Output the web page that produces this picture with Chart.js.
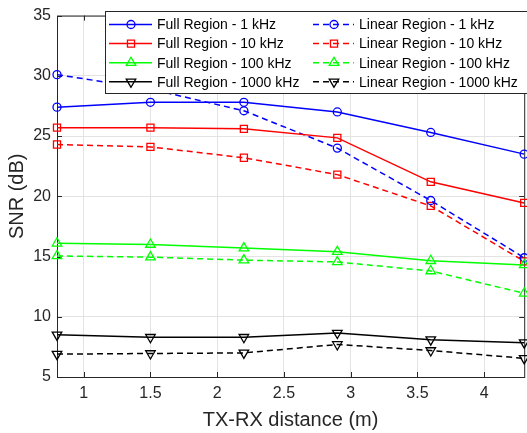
<!DOCTYPE html>
<html>
<head>
<meta charset="utf-8">
<script src="https://cdn.jsdelivr.net/npm/chart.js@4/dist/chart.umd.min.js"></script>
<style>
  html, body { margin: 0; padding: 0; background: #fff; overflow: hidden; }
  #chart { display: block; }
</style>
</head>
<body>
<!-- a bit wider than the window: the original figure is cropped at the right -->
<canvas id="chart" width="531" height="433"></canvas>
<script>
// distance (m)
const distances = [0.8, 1.5, 2.2, 2.9, 3.6, 4.3];
const xTicks = [1, 1.5, 2, 2.5, 3, 3.5, 4];
const yTicks = [5, 10, 15, 20, 25, 30, 35];

// SNR (dB)
const full1k    = [27.4, 27.8, 27.8, 27.0, 25.3, 23.5];
const full10k   = [25.7, 25.7, 25.6, 24.85, 21.2, 19.45];
const full100k  = [16.1, 16.0, 15.7, 15.4, 14.65, 14.3];
const full1000k = [8.5, 8.3, 8.3, 8.65, 8.1, 7.85];
const lin1k     = [30.1, 28.9, 27.1, 24.0, 19.65, 14.9];
const lin10k    = [24.3, 24.1, 23.2, 21.8, 19.2, 14.6];
const lin100k   = [15.05, 14.95, 14.7, 14.55, 13.8, 11.95];
const lin1000k  = [6.9, 6.95, 7.0, 7.7, 7.2, 6.55];

const FONT = "'Liberation Sans', Arial, sans-serif";

function series(label, values, color, marker, dashed) {
  return {
    label: label,
    data: values.map((v, i) => ({ x: distances[i], y: v })),
    borderColor: color,
    backgroundColor: color,
    borderWidth: 1.5,
    borderDash: dashed ? [6, 4] : [],
    pointStyle: marker.style,
    pointRotation: marker.rot,
    pointRadius: marker.r,
    pointBorderWidth: 1.3,
    pointBorderColor: color,
    pointBackgroundColor: 'rgba(0,0,0,0)',
    fill: false,
    tension: 0,
    clip: false
  };
}

const mCircle = { style: 'circle', rot: 0, r: 4 };
const mSquare = { style: 'rect', rot: 0, r: 5 };
const mUp = { style: 'triangle', rot: 0, r: 5.5 };
const mDown = { style: 'triangle', rot: 180, r: 5.5 };

const datasets = [
  series('Full Region - 1 kHz', full1k, '#0000ff', mCircle, false),
  series('Full Region - 10 kHz', full10k, '#ff0000', mSquare, false),
  series('Full Region - 100 kHz', full100k, '#00ff00', mUp, false),
  series('Full Region - 1000 kHz', full1000k, '#000000', mDown, false),
  series('Linear Region - 1 kHz', lin1k, '#0000ff', mCircle, true),
  series('Linear Region - 10 kHz', lin10k, '#ff0000', mSquare, true),
  series('Linear Region - 100 kHz', lin100k, '#00ff00', mUp, true),
  series('Linear Region - 1000 kHz', lin1000k, '#000000', mDown, true)
];

function marker(ctx, m, x, y, color) {
  ctx.save();
  ctx.strokeStyle = color;
  ctx.lineWidth = 1.3;
  ctx.setLineDash([]);
  ctx.beginPath();
  if (m.style === 'circle') {
    ctx.arc(x, y, m.r, 0, Math.PI * 2);
  } else if (m.style === 'rect') {
    const s = m.r * Math.SQRT1_2;
    ctx.rect(x - s, y - s, 2 * s, 2 * s);
  } else {
    let a = m.rot * Math.PI / 180;
    for (let k = 0; k < 3; k++) {
      const px = x + Math.sin(a) * m.r, py = y - Math.cos(a) * m.r;
      if (k === 0) ctx.moveTo(px, py); else ctx.lineTo(px, py);
      a += 2 * Math.PI / 3;
    }
    ctx.closePath();
  }
  ctx.stroke();
  ctx.restore();
}

// plot box with inward ticks, like the original figure
const boxPlugin = {
  id: 'box',
  beforeDatasetsDraw(chart) {
    const { ctx, chartArea: a, scales } = chart;
    ctx.save();
    ctx.strokeStyle = '#262626';
    ctx.lineWidth = 1;
    ctx.strokeRect(a.left + 0.5, a.top + 0.5, a.right - a.left, a.bottom - a.top);
    ctx.beginPath();
    xTicks.forEach(v => {
      const px = Math.round(scales.x.getPixelForValue(v)) + 0.5;
      ctx.moveTo(px, a.bottom); ctx.lineTo(px, a.bottom - 5);
      ctx.moveTo(px, a.top); ctx.lineTo(px, a.top + 5);
    });
    yTicks.forEach(v => {
      const py = Math.round(scales.y.getPixelForValue(v)) + 0.5;
      ctx.moveTo(a.left, py); ctx.lineTo(a.left + 5, py);
      ctx.moveTo(a.right, py); ctx.lineTo(a.right - 5, py);
    });
    ctx.stroke();
    ctx.restore();
  }
};

// two-column legend in the top right corner
const legendPlugin = {
  id: 'colLegend',
  afterDatasetsDraw(chart) {
    const ctx = chart.ctx;
    const left = 105, top = 11, bottom = 93;
    ctx.save();
    ctx.fillStyle = '#ffffff';
    ctx.fillRect(left, top, 540 - left, bottom - top);
    ctx.strokeStyle = '#262626';
    ctx.lineWidth = 1;
    ctx.strokeRect(left + 0.5, top + 0.5, 540 - left, bottom - top);
    ctx.font = '14px ' + FONT;
    ctx.textBaseline = 'middle';
    ctx.fillStyle = '#000';
    const cols = [
      { x0: 109, x1: 152, mx: 131, tx: 157 },
      { x0: 313, x1: 354, mx: 334, tx: 359 }
    ];
    chart.data.datasets.forEach((ds, i) => {
      const c = cols[Math.floor(i / 4)];
      const y = 24.5 + (i % 4) * 19.1;
      ctx.strokeStyle = ds.borderColor;
      ctx.lineWidth = 1.5;
      ctx.setLineDash(ds.borderDash);
      ctx.beginPath();
      ctx.moveTo(c.x0, y); ctx.lineTo(c.x1, y);
      ctx.stroke();
      const m = [mCircle, mSquare, mUp, mDown][i % 4];
      marker(ctx, m, c.mx, y, ds.borderColor);
      ctx.fillStyle = '#000';
      ctx.fillText(ds.label, c.tx, y + 1);
    });
    ctx.restore();
  }
};

new Chart(document.getElementById('chart'), {
  type: 'line',
  data: { datasets: datasets },
  options: {
    responsive: false,
    animation: false,
    layout: { padding: { left: 0, top: 11, right: 2.5, bottom: 0 } },
    plugins: { legend: { display: false }, tooltip: { enabled: false } },
    scales: {
      x: {
        type: 'linear',
        min: 0.8,
        max: 4.3,
        afterFit(s) { s.height = 56; },
        afterBuildTicks(s) { s.ticks = xTicks.map(v => ({ value: v })); },
        grid: { color: '#e3e3e3', drawTicks: false },
        border: { display: false },
        ticks: { color: '#262626', padding: 7, font: { family: FONT, size: 16 }, maxRotation: 0,
                 callback: v => String(v) },
        title: { display: true, text: 'TX-RX distance (m)', color: '#262626',
                 font: { family: FONT, size: 20 }, padding: { top: 0, bottom: 1 } }
      },
      y: {
        min: 5,
        max: 35,
        afterFit(s) { s.width = 57; },
        afterBuildTicks(s) { s.ticks = yTicks.map(v => ({ value: v })); },
        grid: { color: '#e3e3e3', drawTicks: false },
        border: { display: false },
        ticks: { color: '#262626', padding: 6, font: { family: FONT, size: 16 },
                 callback: v => String(v) },
        title: { display: true, text: 'SNR (dB)', color: '#262626',
                 font: { family: FONT, size: 20 }, padding: { top: 5, bottom: 0 } }
      }
    }
  },
  plugins: [boxPlugin, legendPlugin]
});
</script>
</body>
</html>
